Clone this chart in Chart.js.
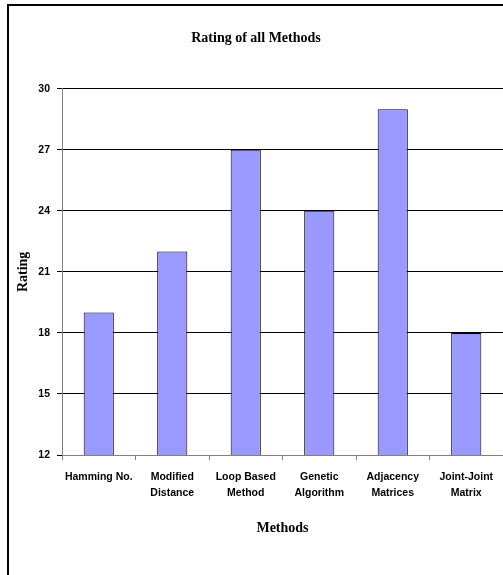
<!DOCTYPE html>
<html>
<head>
<meta charset="utf-8">
<script src="https://cdn.jsdelivr.net/npm/chart.js@4/dist/chart.umd.min.js"></script>
<style>
  html, body { margin: 0; padding: 0; background: #fff; }
  body { width: 503px; height: 575px; overflow: hidden; position: relative; }
  #frame {
    position: absolute; left: 7px; top: 4px;
    width: 496px; height: 571px;
    border-left: 2px solid #000; border-top: 2px solid #000;
    box-sizing: border-box;
  }
  #wrap { position: absolute; left: 9px; top: 6px; width: 494px; height: 569px; }
</style>
</head>
<body>
<div id="frame"></div>
<div id="wrap"><canvas id="c"></canvas></div>
<script>
// Ratings given to each matching method
const methods = [
  'Hamming No.',
  ['Modified', 'Distance'],
  ['Loop Based', 'Method'],
  ['Genetic', 'Algorithm'],
  ['Adjacency', 'Matrices'],
  ['Joint-Joint', 'Matrix']
];
const ratings = [19, 22, 27, 24, 29, 18];
const ratingTicks = [12, 15, 18, 21, 24, 27, 30];

const serifBold = { family: '"Liberation Serif", "Times New Roman", serif', weight: 'bold' };
const sansBold = { family: '"Liberation Sans", Arial, sans-serif', weight: 'bold' };

new Chart(document.getElementById('c'), {
  type: 'bar',
  data: {
    labels: methods,
    datasets: [{
      label: 'Rating',
      data: ratings,
      backgroundColor: '#9999FF',
      borderColor: '#000000',
      borderWidth: 1,
      barPercentage: 0.41,
      categoryPercentage: 1.0
    }]
  },
  options: {
    responsive: true,
    maintainAspectRatio: false,
    animation: false,
    layout: { padding: { left: 0, right: 0, top: 0, bottom: 0 } },
    plugins: {
      legend: { display: false },
      tooltip: { enabled: false },
      title: {
        display: true,
        text: 'Rating of all Methods',
        color: '#000',
        font: { ...serifBold, size: 14 },
        padding: { top: 24, bottom: 42 }
      }
    },
    scales: {
      x: {
        afterFit: s => { s.height = 120; },
        grid: {
          display: true,
          drawOnChartArea: false,
          offset: true,
          tickLength: 5,
          color: '#808080'
        },
        border: { display: true, color: '#808080', width: 1 },
        ticks: {
          color: '#000',
          font: { ...sansBold, size: 10.5, lineHeight: 1.5 },
          padding: 9,
          maxRotation: 0,
          autoSkip: false
        },
        title: {
          display: true,
          text: 'Methods',
          color: '#000',
          font: { ...serifBold, size: 14 },
          padding: { top: 0, bottom: 38 }
        }
      },
      y: {
        min: 12,
        max: 30,
        afterFit: s => { s.width = 53; },
        afterBuildTicks: s => { s.ticks = ratingTicks.map(v => ({ value: v })); },
        grid: {
          color: '#000',
          tickLength: 5,
          lineWidth: 1
        },
        border: { display: true, color: '#808080', width: 1 },
        ticks: {
          color: '#000',
          font: { ...sansBold, size: 10.5 },
          padding: 7
        },
        title: {
          display: true,
          text: 'Rating',
          color: '#000',
          font: { ...serifBold, size: 14 },
          padding: { top: 6, bottom: 0 }
        }
      }
    }
  }
});
</script>
</body>
</html>
